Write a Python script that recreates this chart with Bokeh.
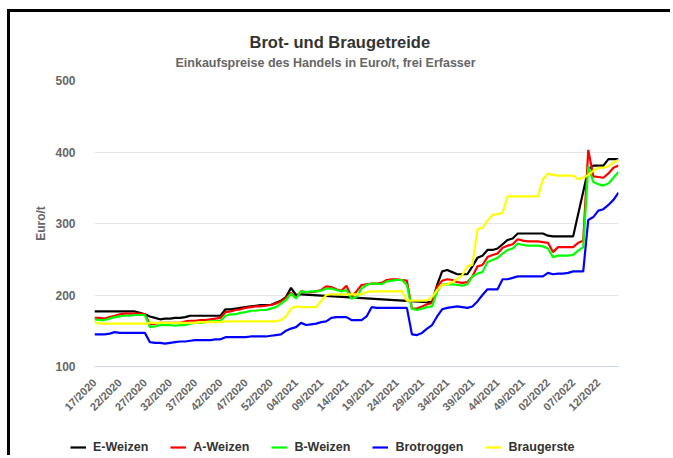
from math import pi
from bokeh.plotting import figure
from bokeh.layouts import column
from bokeh.models import (ColumnDataSource, Range1d, FixedTicker, Title, Legend, LegendItem)
from bokeh.embed import file_html
from bokeh.resources import INLINE

# --- categories: calendar weeks 17/2020 .. 16/2022 ---
weeks = []
for year, first, last in [(2020, 17, 53), (2021, 1, 52), (2022, 1, 16)]:
    for w in range(first, last + 1):
        weeks.append(f"{w:02d}/{year}")

series_names = ["E-Weizen", "A-Weizen", "B-Weizen", "Brotroggen", "Braugerste"]
series_colors = ["#000000", "#ff0000", "#00ff00", "#0000ff", "#ffff00"]

e_weizen = [
    177, 177, 177, 177, 177, 177, 177, 177, 177, 175,
    173, 170, 168, 166, 167, 167, 168, 168, 169, 171,
    171, 171, 171, 171, 171, 171, 180, 180, 181, 182,
    183, 184, 185, 186, 186, 186, 189, 192, 197, 210,
    200, 201, None, None, None, None, None, None, None, None,
    None, None, None, None, None, None, None, None, None, None,
    None, None, None, None, None, None, 190, 190, 214, 233,
    235, 232, 229, 229, 229, 240, 252, 255, 263, 263,
    265, 271, 277, 279, 286, 286, 286, 286, 286, 286,
    283, 282, 282, 282, 282, 282, None, None, 376, 381,
    381, 381, 390, 390, 390]

a_weizen = [
    168, 168, 167, 169, 171, 173, 174, 174, 174, 174,
    173, 159, 160, 161, 161, 161, 161, 161, 163, 164,
    164, 165, 165, 166, 167, 168, 176, 177, 179, 180,
    182, 183, 184, 184, 185, 186, 188, 191, 196, 203,
    196, 205, 204, 204, 205, 207, 212, 211, 208, 206,
    213, 198, 205, 214, 215, 216, 216, 217, 221, 222,
    222, 221, 220, 181, 181, 184, 187, 189, 212, 220,
    222, 221, 218, 217, 218, 226, 240, 242, 253, 256,
    258, 266, 269, 271, 278, 276, 275, 275, 275, 274,
    273, 260, 267, 267, 267, 267, 273, 276, 403, 366,
    365, 364, 370, 378, 381]

b_weizen = [
    166, 165, 165, 167, 169, 170, 171, 171, 172, 172,
    172, 155, 156, 158, 158, 158, 157, 158, 158, 160,
    161, 161, 162, 163, 163, 164, 171, 173, 173, 175,
    176, 178, 178, 179, 179, 181, 183, 188, 193, 202,
    195, 205, 204, 205, 205, 206, 209, 209, 207, 205,
    207, 195, 197, 209, 214, 216, 216, 215, 219, 220,
    221, 221, 214, 181, 179, 181, 183, 184, 205, 215,
    215, 215, 214, 213, 215, 226, 230, 232, 246, 249,
    252, 258, 263, 265, 272, 270, 269, 269, 269, 268,
    265, 253, 255, 255, 255, 256, 262, 267, 380, 358,
    355, 353, 356, 364, 372]

brotroggen = [
    145, 145, 145, 146, 148, 147, 147, 147, 147, 147,
    147, 134, 133, 133, 132, 133, 134, 135, 135, 136,
    137, 137, 137, 137, 138, 138, 141, 141, 141, 141,
    141, 142, 142, 142, 142, 143, 144, 145, 150, 153,
    155, 161, 158, 159, 160, 162, 163, 168, 169, 169,
    169, 165, 165, 165, 170, 183, 182, 182, 182, 182,
    182, 182, 182, 145, 144, 147, 153, 158, 170, 180,
    182, 183, 184, 183, 182, 184, 191, 200, 208, 208,
    208, 222, 222, 224, 226, 226, 226, 226, 226, 226,
    231, 229, 230, 230, 231, 233, 233, 233, 305, 309,
    318, 320, 326, 333, 343]

braugerste = [
    162, 160, 160, 160, 160, 160, 160, 160, 160, 160,
    160, 161, 161, 161, 161, 161, 161, 161, 161, 161,
    161, 162, 162, 162, 162, 162, 163, 163, 163, 163,
    163, 163, 163, 163, 163, 163, 163, 165, 170, 181,
    184, 183, 183, 183, 183, 192, 200, 201, 201, 201,
    201, 201, 201, 201, 204, 205, 205, 205, 205, 205,
    205, 206, 192, 192, 192, 192, 192, 197, 207, 214,
    215, 218, 222, 228, 240, 242, 292, 294, 304, 312,
    313, 315, 338, 338, 338, 338, 338, 338, 338, 362,
    370, 368, 367, 367, 367, 367, 362, 364, 368, 374,
    378, 378, 380, 385, 389]

y_ticks = [100, 200, 300, 400, 500]
tick_step = 5

FONT = "Liberation Sans"

p = figure(width=663, height=408, output_backend="svg", toolbar_location=None,
           x_range=Range1d(0, len(weeks) - 1), y_range=Range1d(100, 500),
           min_border_left=84, min_border_right=55, min_border_top=68,
           min_border_bottom=51)
p.frame_align = False
p.styles = {"margin-left": "7px", "margin-top": "9px",
            "border-top": "3px solid black", "border-left": "3px solid black"}

p.title.text = "Brot- und Braugetreide"
p.title.align = "left"
p.title.offset = 155
p.title.text_font = FONT
p.title.text_font_size = "16.5px"
p.title.text_font_style = "bold"
p.title.text_color = "#333333"
p.title.standoff = -16

sub = Title(text="Einkaufspreise des Handels in Euro/t, frei Erfasser", align="left",
            offset=81, text_font=FONT, text_font_size="12.5px", text_font_style="bold",
            text_color="#666666", standoff=22)
p.add_layout(sub, "above")

p.outline_line_color = None
p.background_fill_color = "white"
p.xgrid.visible = False
p.ygrid.grid_line_color = "#e6e6e6"
p.ygrid.ticker = FixedTicker(ticks=y_ticks)

tick_pos = list(range(0, len(weeks), tick_step))
p.xaxis.ticker = FixedTicker(ticks=tick_pos)
p.xaxis.major_label_overrides = {i: weeks[i] for i in tick_pos}
p.xaxis.major_label_orientation = pi / 4
p.xaxis.axis_line_color = "#ccd6eb"
p.xaxis.major_tick_line_color = None
p.xaxis.minor_tick_line_color = None
p.xaxis.major_label_standoff = 8
p.xaxis.major_label_text_font = FONT
p.xaxis.major_label_text_font_size = "11px"
p.xaxis.major_label_text_font_style = "bold"
p.xaxis.major_label_text_color = "#666666"

p.yaxis.ticker = FixedTicker(ticks=y_ticks)
p.yaxis.axis_line_color = None
p.yaxis.major_tick_line_color = None
p.yaxis.minor_tick_line_color = None
p.yaxis.major_label_standoff = 13
p.yaxis.major_label_text_font = FONT
p.yaxis.major_label_text_font_size = "12px"
p.yaxis.major_label_text_font_style = "bold"
p.yaxis.major_label_text_color = "#666666"
p.yaxis.axis_label = "Euro/t"
p.yaxis.axis_label_text_font = FONT
p.yaxis.axis_label_text_font_size = "12px"
p.yaxis.axis_label_text_font_style = "bold"
p.yaxis.axis_label_text_color = "#666666"
p.yaxis.axis_label_standoff = 4

# --- legend strip below the chart (same series, outside its visible range) ---
lf = figure(width=663, height=38, output_backend="svg", toolbar_location=None,
            x_range=Range1d(0, 1), y_range=Range1d(0, 1), min_border=0,
            x_axis_location=None, y_axis_location=None)
lf.frame_align = False
lf.styles = {"margin-left": "7px", "border-left": "3px solid black"}
lf.grid.visible = False
lf.outline_line_color = None
lf.background_fill_color = "white"

all_series = [e_weizen, a_weizen, b_weizen, brotroggen, braugerste]
items = []
for name, color, vals in zip(series_names, series_colors, all_series):
    xs = [i for i, v in enumerate(vals) if v is not None]
    ys = [v for v in vals if v is not None]
    src = ColumnDataSource(dict(x=xs, y=ys))
    p.line("x", "y", source=src, line_color=color, line_width=2.2)
    r = lf.line("x", "y", source=src, line_color=color, line_width=2.2)
    items.append(LegendItem(label=name, renderers=[r]))

legend = Legend(items=items, orientation="horizontal", location=(60, 1),
                glyph_width=16, glyph_height=12, label_standoff=7, spacing=22,
                padding=4, margin=0,
                label_text_font=FONT, label_text_font_size="12.5px",
                label_text_font_style="bold", label_text_color="#333333",
                border_line_color=None, background_fill_alpha=0)
lf.add_layout(legend, "center")

layout = column(p, lf, spacing=0)
open("out.html", "w").write(file_html(layout, INLINE))
